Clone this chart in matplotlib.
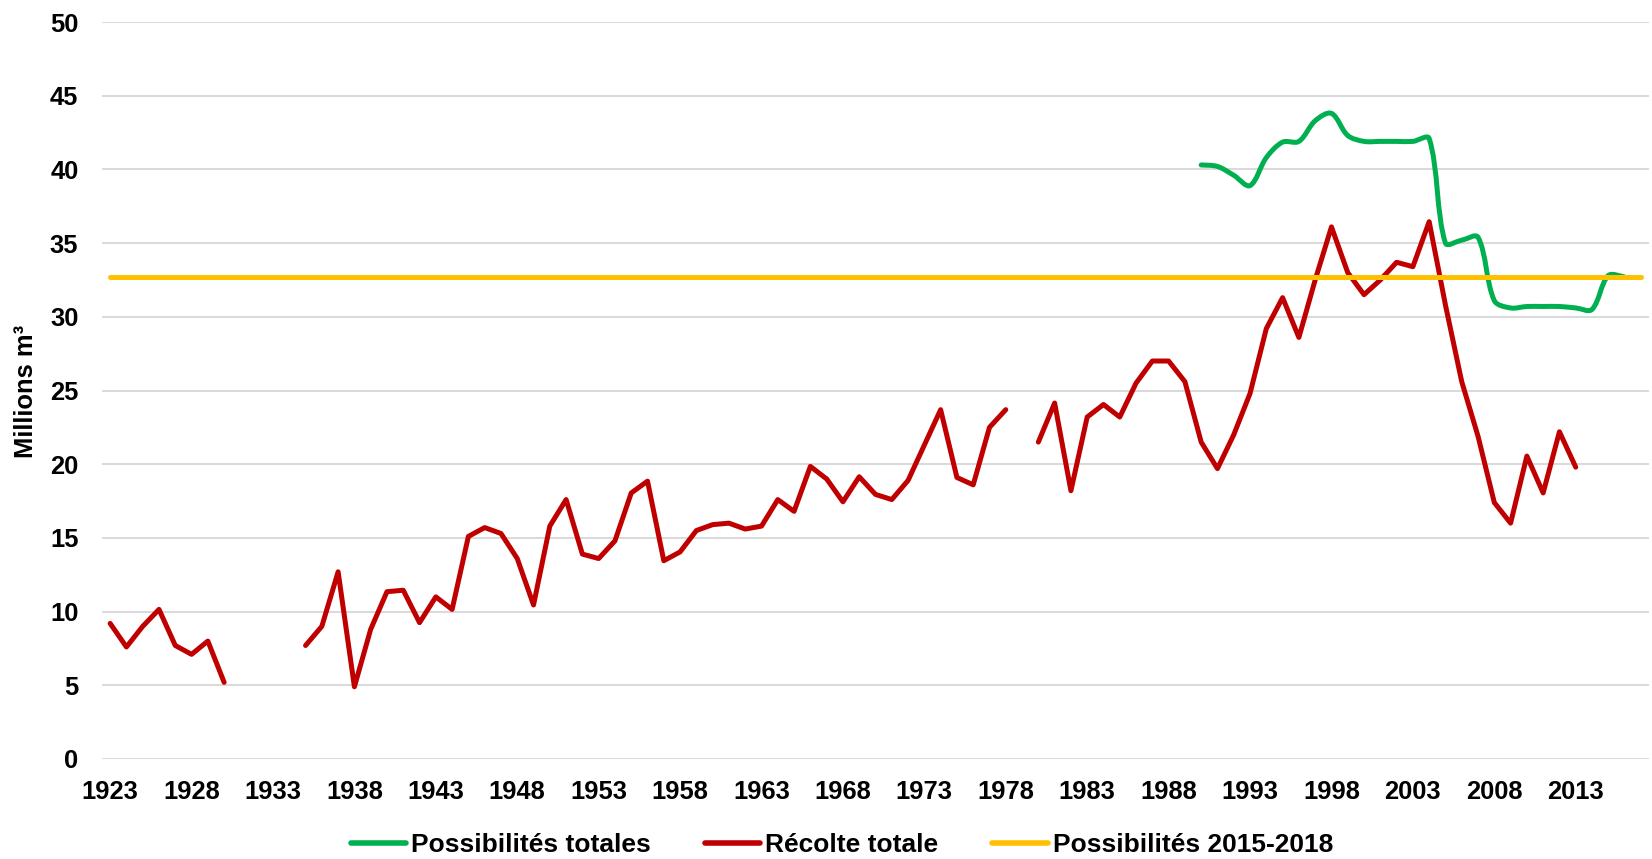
import numpy as np
import matplotlib
matplotlib.use("Agg")
import matplotlib.pyplot as plt
from matplotlib.path import Path
from matplotlib.patches import PathPatch
from matplotlib.lines import Line2D

# ---------------- data ----------------
years = list(range(1923, 2018))
tick_years = list(range(1923, 2014, 5))

recolte_years = list(range(1923, 2014))
recolte = [
    9.2, 7.6, 9.0, 10.15, 7.7, 7.1, 8.0, 5.2,             # 1923-1930
    None, None, None, None,                               # 1931-1934
    7.7, 9.0, 12.7, 4.9, 8.8, 11.35, 11.45, 9.25, 11.0, 10.15,   # 1935-1944
    15.1, 15.7, 15.3, 13.6, 10.45, 15.8, 17.6, 13.9, 13.6, 14.8, # 1945-1954
    18.05, 18.85, 13.45, 14.05, 15.5, 15.9, 16.0, 15.6, 15.8, 17.6,  # 1955-1964
    16.8, 19.85, 19.0, 17.45, 19.15, 17.95, 17.6, 18.9, 21.3, 23.7,  # 1965-1974
    19.1, 18.6, 22.5, 23.7, None, 21.5, 24.15, 18.2, 23.2, 24.05,    # 1975-1984
    23.2, 25.5, 27.0, 27.0, 25.6, 21.5, 19.7, 22.0, 24.8, 29.2,      # 1985-1994
    31.3, 28.6, 32.5, 36.1, 33.0, 31.5, 32.5, 33.7, 33.4, 36.45,     # 1995-2004
    30.8, 25.6, 21.9, 17.4, 16.0, 20.55, 18.05, 22.2, 19.8,          # 2005-2013
]

possib_years = list(range(1990, 2017))
possib = [
    40.3, 40.2, 39.6, 38.9, 40.8, 41.85, 41.9, 43.3, 43.8, 42.3,    # 1990-1999
    41.9, 41.9, 41.9, 41.9, 42.1, 35.0, 35.2, 35.4, 31.1, 30.6,     # 2000-2009
    30.7, 30.7, 30.7, 30.6, 30.5, 32.8, 32.7,                       # 2010-2016
]

possib_2015_2018 = [32.7] * len(years)

labels = ["Possibilités totales", "Récolte totale", "Possibilités 2015-2018"]
c_green, c_red, c_yellow = "#00B050", "#C00000", "#FFC000"

# ---------------- style ----------------
plt.rcParams['font.family'] = ['Liberation Sans', 'DejaVu Sans']
plt.rcParams['font.weight'] = 'bold'

W, H = 1652, 859
fig = plt.figure(figsize=(W / 100, H / 100), dpi=100)
ax = fig.add_axes([102 / W, 1 - 759 / H, (1649 - 102) / W, (759 - 22) / H])
ax.set_xlim(1922.5, 2017.5)
ax.set_ylim(0, 50)

LW = 3.6


def smooth_path(xs, ys, ax):
    """Excel-like smoothed line: cubic Bezier segments whose tangent lengths
    are weighted by the on-screen lengths of adjacent segments."""
    data = np.column_stack([xs, ys]).astype(float)
    disp = ax.transData.transform(data)
    n = len(data)
    verts = [data[0]]
    codes = [Path.MOVETO]

    def d(a, b):
        return np.hypot(*(disp[b] - disp[a]))

    for i in range(n - 1):
        i0 = max(i - 1, 0)
        i3 = min(i + 2, n - 1)
        p0, p1, p2, p3 = data[i0], data[i], data[i + 1], data[i3]
        d01, d12, d23 = d(i0, i), d(i, i + 1), d(i + 1, i3)
        f1 = (1 / 3) * d12 / (d01 + d12) if d01 + d12 > 0 else 0
        f2 = (1 / 3) * d12 / (d12 + d23) if d12 + d23 > 0 else 0
        if i == 0:
            f1 = 1 / 6
        if i + 2 > n - 1:
            f2 = 1 / 6
        c1 = p1 + (p2 - p0) * f1
        c2 = p2 - (p3 - p1) * f2
        verts += [c1, c2, p2]
        codes += [Path.CURVE4] * 3
    return Path(verts, codes)


# green smoothed line
gp = PathPatch(smooth_path(possib_years, possib, ax), facecolor='none',
               edgecolor=c_green, lw=LW, capstyle='round', joinstyle='round',
               zorder=3)
ax.add_patch(gp)

# red line with gaps
rv = np.array([np.nan if v is None else v for v in recolte], dtype=float)
ax.plot(recolte_years, rv, color=c_red, lw=LW, solid_capstyle='round',
        solid_joinstyle='round', zorder=4)

# yellow constant
ax.plot(years, possib_2015_2018, color=c_yellow, lw=LW,
        solid_capstyle='round', zorder=5)

ax.set_yticks(range(0, 51, 5))
ax.set_xticks(tick_years)
ax.set_xticklabels([str(y) for y in tick_years])
ax.tick_params(axis='both', length=0, labelsize=18.4)
ax.tick_params(axis='y', pad=17)
ax.tick_params(axis='x', pad=15)
for lab in ax.get_xticklabels() + ax.get_yticklabels():
    lab.set_fontweight('bold')
for s in ax.spines.values():
    s.set_visible(False)
ax.yaxis.grid(True, color='#d9d9d9', lw=1.4)
ax.set_axisbelow(True)

fig.text(26 / W, 1 - 391 / H, "Millions m³", rotation=90, ha='center',
         va='center', fontsize=18.4, fontweight='bold')

handles = [Line2D([], [], color=c, lw=LW + 0.4, solid_capstyle='round')
           for c in (c_green, c_red, c_yellow)]
fig.legend(handles, labels, loc='center', bbox_to_anchor=(842 / W, 1 - 845 / H),
           ncol=3, frameon=False, handlelength=2.1,
           handletextpad=0.18, columnspacing=2.05,
           prop={'weight': 'bold', 'size': 19})

fig.savefig("out.png", dpi=100, facecolor='white')
